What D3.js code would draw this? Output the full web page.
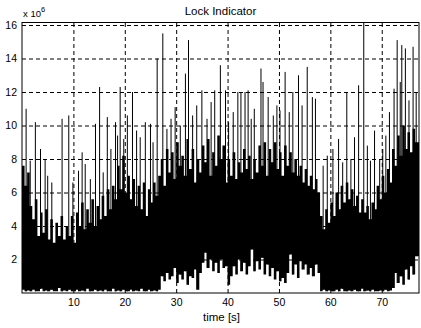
<!DOCTYPE html>
<html><head><meta charset="utf-8">
<script src="https://cdn.jsdelivr.net/npm/d3@7"></script>
<style>
body{margin:0;background:#fff}
svg{display:block}
text{font-family:"Liberation Sans",Arial,sans-serif;fill:#000}
</style>
</head><body>
<svg id="chart" width="421" height="328"></svg>
<script>
// ---- data ----
const sampleStep = 0.5; // s, width of one envelope sample
// upper edge of the dense black mass, one value per 0.5 s (x10^6)
const bodyHi = [
 7.6,6.4,7.2,5.2,4.4,5.6,3.4,4.8,3.6,5.0,3.2,4.4,3.0,4.2,3.4,4.6,3.2,4.0,3.4,4.6,
 3.0,4.8,4.0,5.4,3.8,5.0,4.2,5.6,4.0,5.2,4.4,5.8,4.6,6.2,5.0,6.4,5.6,7.6,6.2,8.2,
 6.0,7.0,5.6,6.8,5.2,6.4,5.0,6.6,4.6,6.2,5.4,6.6,5.8,7.0,
 8.0,6.4,8.6,7.2,8.4,6.8,9.0,7.6,8.2,7.0,9.2,7.4,8.6,6.6,8.0,7.2,8.8,7.8,9.2,7.0,
 8.4,7.6,9.4,8.0,8.8,6.6,8.0,7.0,8.4,6.8,7.8,7.2,8.6,7.4,8.2,6.8,8.0,7.2,8.8,7.6,
 9.0,7.0,8.6,7.8,9.0,7.4,8.4,7.0,8.8,7.6,8.4,7.2,8.0,7.0,7.6,6.6,7.4,6.4,7.0,6.2,
 6.8,6.0,
 4.6,3.8,5.0,4.2,5.4,4.6,6.0,5.0,6.4,5.4,6.6,5.6,6.2,5.2,5.8,4.8,5.6,4.8,5.2,4.4,
 5.4,5.0,6.4,5.6,7.0,6.0,7.4,6.6,
 8.6,7.6,9.4,8.2,10.0,8.6,9.6,8.4,9.8,9.0
];
// lower edge of the signal, one value per 0.5 s (x10^6)
const bodyLo = [
 0.2,0.1,0.15,0.1,0.2,0.1,0.1,0.25,0.1,0.15,0.1,0.2,0.1,0.1,0.3,0.1,0.15,0.1,0.2,0.1,
 0.1,0.2,0.1,0.15,0.1,0.25,0.1,0.1,0.2,0.1,0.15,0.1,0.2,0.1,0.1,0.25,0.1,0.15,0.1,0.2,
 0.1,0.1,0.2,0.1,0.15,0.1,0.25,0.1,0.1,0.2,0.1,0.15,0.1,0.2,
 1.0,0.7,1.2,0.8,1.0,1.5,0.6,1.1,0.8,1.3,0.5,1.0,0.9,1.4,0.2,1.2,1.8,2.4,1.5,2.0,
 1.3,1.8,1.2,2.0,1.5,1.6,0.5,1.0,1.6,1.1,2.0,1.3,1.8,1.1,1.6,2.6,1.3,1.9,1.4,2.1,
 1.1,1.7,1.0,1.5,0.8,1.3,0.7,0.9,0.6,1.2,2.3,1.1,1.7,0.9,1.9,1.4,1.7,1.1,1.5,1.0,
 1.7,1.2,
 0.1,0.2,0.1,0.15,0.1,0.1,0.2,0.1,0.25,0.1,0.1,0.15,0.1,0.2,0.1,0.1,0.25,0.1,0.15,0.1,
 0.2,0.1,0.1,0.15,0.1,0.2,0.1,0.15,
 0.3,1.2,0.6,1.0,0.5,1.4,0.8,1.6,1.1,2.2
];
// isolated tall spikes: time (s) and peak (x10^6)
const spikeTime = [
 0.8,1.6,2.6,3.6,4.5,5.0,5.8,7.8,9.1,9.9,11.0,11.7,12.3,13.3,14.3,15.1,15.8,16.6,17.3,18.2,
 18.6,19.1,19.8,20.5,21.5,22.3,23.0,24.0,25.0,25.5,
 26.3,27.4,28.2,29.0,29.8,30.8,31.8,32.4,33.2,34.0,35.0,36.0,36.8,37.5,38.6,39.6,40.2,41.1,42.0,42.6,
 43.4,44.0,44.6,45.2,46.5,46.9,47.9,48.9,49.6,50.2,51.2,52.0,52.7,53.8,54.5,55.5,56.5,57.1,
 58.6,59.4,60.5,61.6,62.4,63.2,64.0,64.7,65.5,66.5,67.2,67.8,68.6,69.6,70.2,70.8,71.5,
 72.4,73.0,73.6,73.9,74.6,75.3,76.1,76.7
];
const spikeValue = [
 11.0,7.9,10.2,8.6,8.0,7.0,6.6,10.4,10.6,6.6,7.3,8.4,7.7,6.8,10.1,12.3,7.2,10.5,8.6,10.2,
 9.4,12.3,9.2,10.6,12.0,9.7,9.3,10.2,10.1,9.0,
 14.0,15.5,9.8,10.4,11.1,10.0,13.1,15.1,10.6,11.2,12.1,10.4,11.4,12.1,13.6,12.1,10.2,10.8,12.0,12.0,
 12.0,12.1,10.4,11.0,13.4,12.6,11.7,10.6,11.2,10.9,13.2,10.8,12.0,13.0,11.2,13.5,11.7,11.6,
 7.6,8.2,8.6,9.2,7.8,12.0,8.0,9.3,12.4,16.3,8.8,7.9,9.7,8.0,8.6,9.4,10.8,
 12.2,15.1,12.6,14.8,14.6,11.5,14.7,12.0
];
const xTicks = [10,20,30,40,50,60,70];
const yTicks = [2,4,6,8,10,12,14,16];
const titleText = "Lock Indicator";
const xLabelText = "time [s]";

// ---- layout ----
const m = {l:22, r:419, t:22.5, b:293};
const x = d3.scaleLinear().domain([0,77.25]).range([m.l,m.r]);
const y = d3.scaleLinear().domain([0,16.15]).range([m.b,m.t]);
const svg = d3.select("#chart");

// grid + tick labels via axes
const gx = svg.append("g").attr("transform",`translate(0,${m.b})`)
  .call(d3.axisBottom(x).tickValues(xTicks).tickSize(-(m.b-m.t)).tickPadding(6).tickFormat(d3.format("d")));
const gy = svg.append("g").attr("transform",`translate(${m.l},0)`)
  .call(d3.axisLeft(y).tickValues(yTicks).tickSize(-(m.r-m.l)).tickPadding(5).tickFormat(d3.format("d")));
[gx,gy].forEach(g=>{
  g.select(".domain").remove();
  g.selectAll(".tick line").attr("stroke","#000").attr("stroke-width",1).attr("stroke-dasharray","4,3");
  g.selectAll(".tick text").attr("font-size",10.5).attr("font-family","'Liberation Sans',Arial,sans-serif").attr("fill","#000");
});

// clip
svg.append("clipPath").attr("id","clip").append("rect")
  .attr("x",m.l).attr("y",m.t).attr("width",m.r-m.l).attr("height",m.b-m.t);
const plot = svg.append("g").attr("clip-path","url(#clip)");

// dense body
const body = bodyHi.map((h,i)=>({t:i*sampleStep, hi:h, lo:bodyLo[i]}));
body.push({t:body.length*sampleStep+0.5, hi:bodyHi[bodyHi.length-1], lo:bodyLo[bodyLo.length-1]});
plot.append("path").datum(body)
  .attr("fill","#000")
  .attr("d", d3.area().curve(d3.curveStepAfter).x(d=>x(d.t)).y0(d=>y(d.lo)).y1(d=>y(d.hi)));

// spikes
plot.append("g").selectAll("line").data(spikeTime.map((t,i)=>({t, v:spikeValue[i]})))
  .join("line")
  .attr("x1",d=>x(d.t)).attr("x2",d=>x(d.t))
  .attr("y1",d=>y(bodyLo[Math.min(bodyLo.length-1,Math.floor(d.t/sampleStep))]))
  .attr("y2",d=>y(d.v))
  .attr("stroke","#000").attr("stroke-width",1);

// box
svg.append("rect").attr("x",m.l).attr("y",m.t).attr("width",m.r-m.l).attr("height",m.b-m.t)
  .attr("fill","none").attr("stroke","#000").attr("stroke-width",1);

// title, labels
svg.append("text").attr("x",(m.l+m.r)/2).attr("y",15).attr("text-anchor","middle")
  .attr("font-size",11.5).text(titleText);
svg.append("text").attr("x",(m.l+m.r)/2+1).attr("y",321).attr("text-anchor","middle")
  .attr("font-size",11.5).text(xLabelText);
const ex = svg.append("text").attr("x",23).attr("y",17).attr("font-size",9.5);
ex.append("tspan").text("x 10");
ex.append("tspan").attr("dy",-5).attr("font-size",7.5).text("6");
</script>
</body></html>
